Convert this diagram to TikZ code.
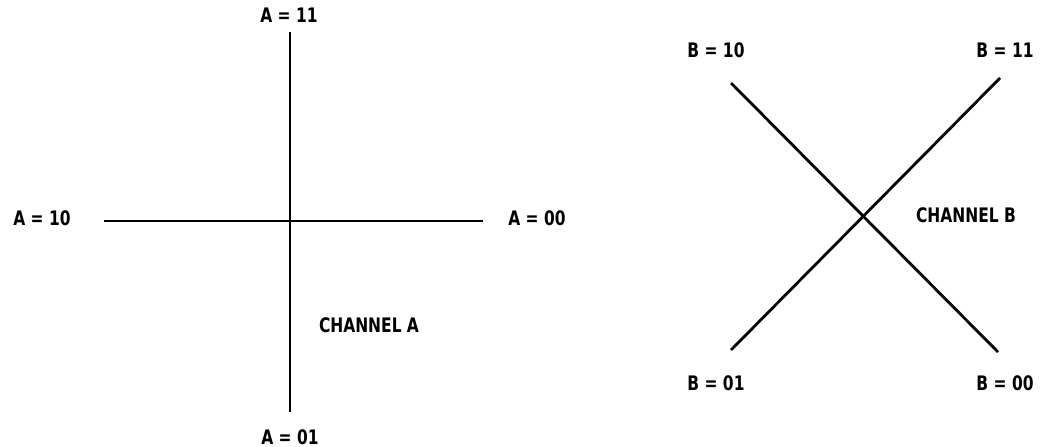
\documentclass[tikz,border=0pt]{standalone}
\usepackage{fontspec}
\setmainfont{DejaVu Sans Condensed}[FakeStretch=0.86]
\tikzset{
  lbl/.style={font=\fontsize{20}{22}\selectfont\bfseries, inner sep=0pt},
  axis/.style={line width=2.8pt},
}
\begin{document}
\begin{tikzpicture}[x=1pt,y=-1pt]
\useasboundingbox (0,0) rectangle (1044,447);
% Channel A
\coordinate (at) at (290,32);
\coordinate (ab) at (290,412);
\coordinate (al) at (104,221);
\coordinate (ar) at (483,221);
\draw[axis] (at) -- (ab);
\draw[axis] (al) -- (ar);
\node[lbl] (a11) at (289,15) {A = 11};
\node[lbl] (a10) at (42,218) {A = 10};
\node[lbl] (a00) at (537,218) {A = 00};
\node[lbl] (a01) at (290,437) {A = 01};
\node[lbl] (cha) at (369,325) {CHANNEL A};
% Channel B
\coordinate (btl) at (731,83);
\coordinate (bbr) at (998,352);
\coordinate (btr) at (1000,78);
\coordinate (bbl) at (731,350);
\draw[axis] (btl) -- (bbr);
\draw[axis] (btr) -- (bbl);
\node[lbl] (b10) at (716,50) {B = 10};
\node[lbl] (b11) at (1005,50) {B = 11};
\node[lbl] (b01) at (716,383) {B = 01};
\node[lbl] (b00) at (1005,383) {B = 00};
\node[lbl] (chb) at (966,215) {CHANNEL B};
\end{tikzpicture}
\end{document}
